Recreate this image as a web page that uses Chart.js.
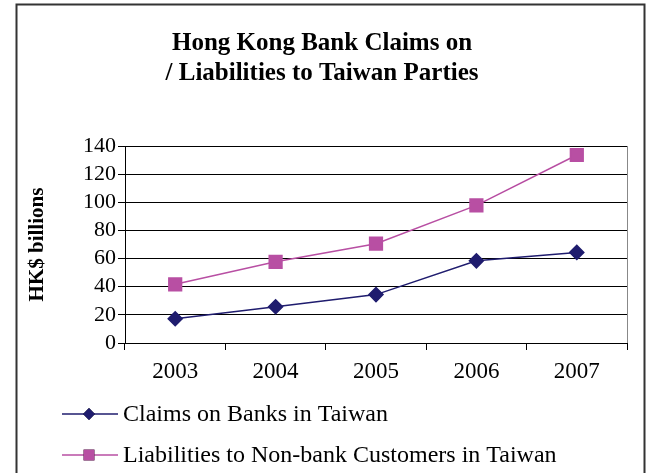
<!DOCTYPE html>
<html>
<head>
<meta charset="utf-8">
<script src="https://cdn.jsdelivr.net/npm/chart.js@4.4.0/dist/chart.umd.min.js"></script>
<style>
  html, body { margin: 0; padding: 0; background: #fff; }
  #wrap { width: 649px; height: 473px; }
</style>
</head>
<body>
<div id="wrap"><canvas id="bankChart" width="649" height="473"></canvas></div>
<script>
const years = ["2003", "2004", "2005", "2006", "2007"];
const claimsOnBanks = [17.2, 25.8, 34.4, 58.4, 64.4];
const liabilitiesNonBank = [41.7, 57.7, 70.6, 97.8, 133.6];
const yTicks = [0, 20, 40, 60, 80, 100, 120, 140];

const SERIF = "'Liberation Serif', 'Times New Roman', serif";
const NAVY = "#1f1c6e";
const MAGENTA = "#b84fa3";

// frame round the whole chart + grey right edge of the plot area
const framePlugin = {
  id: "frame",
  afterDraw(chart) {
    const { ctx, chartArea: { top, bottom, right } } = chart;
    ctx.save();
    ctx.strokeStyle = "#333";
    ctx.lineWidth = 2;
    ctx.strokeRect(16.5, 4.5, 628, 480);
    ctx.strokeStyle = "#888";
    ctx.lineWidth = 1;
    ctx.beginPath();
    ctx.moveTo(right + 0.5, top);
    ctx.lineTo(right + 0.5, bottom);
    ctx.stroke();
    ctx.restore();
  },
};

// legend as in the original: line sample with marker, one row per series
const legendPlugin = {
  id: "rowLegend",
  afterDraw(chart) {
    const { ctx } = chart;
    const rows = [414, 455];
    ctx.save();
    chart.data.datasets.forEach((ds, i) => {
      const y = rows[i];
      ctx.strokeStyle = ds.borderColor;
      ctx.lineWidth = 1.5;
      ctx.beginPath();
      ctx.moveTo(62, y);
      ctx.lineTo(118, y);
      ctx.stroke();
      Chart.helpers.drawPoint(ctx, {
        pointStyle: ds.pointStyle,
        radius: ds.pointRadius * 0.85,
        borderWidth: 0,
      }, 89, y);
      ctx.fillStyle = ds.pointBackgroundColor;
      ctx.fill();
      ctx.fillStyle = "#000";
      ctx.font = "24px " + SERIF;
      ctx.textBaseline = "middle";
      ctx.textAlign = "left";
      ctx.fillText(ds.label, 123, y + 1);
    });
    ctx.restore();
  },
};

new Chart(document.getElementById("bankChart"), {
  type: "line",
  data: {
    labels: years,
    datasets: [
      {
        label: "Claims on Banks in Taiwan",
        data: claimsOnBanks,
        borderColor: NAVY,
        backgroundColor: NAVY,
        pointBackgroundColor: NAVY,
        pointBorderColor: NAVY,
        pointStyle: "rectRot",
        pointRadius: 7,
        borderWidth: 1.5,
        tension: 0,
      },
      {
        label: "Liabilities to Non-bank Customers in Taiwan",
        data: liabilitiesNonBank,
        borderColor: MAGENTA,
        backgroundColor: MAGENTA,
        pointBackgroundColor: MAGENTA,
        pointBorderColor: MAGENTA,
        pointStyle: "rect",
        pointRadius: 9,
        borderWidth: 1.5,
        tension: 0,
      },
    ],
  },
  options: {
    responsive: false,
    animation: false,
    layout: { padding: { top: 4, left: 17, right: 22, bottom: 90 } },
    plugins: {
      legend: { display: false },
      tooltip: { enabled: false },
      title: {
        display: true,
        text: ["Hong Kong Bank Claims on", "/ Liabilities to Taiwan Parties"],
        color: "#000",
        font: { family: SERIF, size: 25, weight: "bold", lineHeight: 1.2 },
        padding: { top: 25, bottom: 57 },
      },
    },
    scales: {
      x: {
        offset: true,
        grid: {
          offset: true,
          drawOnChartArea: false,
          drawTicks: true,
          tickLength: 7,
          color: "#000",
        },
        border: { color: "#000", width: 1 },
        ticks: { color: "#000", font: { family: SERIF, size: 23 }, padding: 8, autoSkip: false, maxRotation: 0 },
        afterFit(scale) { scale.height = 40; },
      },
      y: {
        min: 0,
        max: 140,
        afterBuildTicks(scale) { scale.ticks = yTicks.map(v => ({ value: v })); },
        grid: { color: "#000", tickLength: 7, lineWidth: 1 },
        border: { color: "#000", width: 1 },
        ticks: { color: "#000", font: { family: SERIF, size: 22 }, padding: 2, autoSkip: false },
        title: {
          display: true,
          text: "HK$ billions",
          color: "#000",
          font: { family: SERIF, size: 21, weight: "bold" },
          padding: { top: 8, bottom: 0 },
        },
        afterFit(scale) { scale.width = 108; },
      },
    },
  },
  plugins: [framePlugin, legendPlugin],
});
</script>
</body>
</html>
